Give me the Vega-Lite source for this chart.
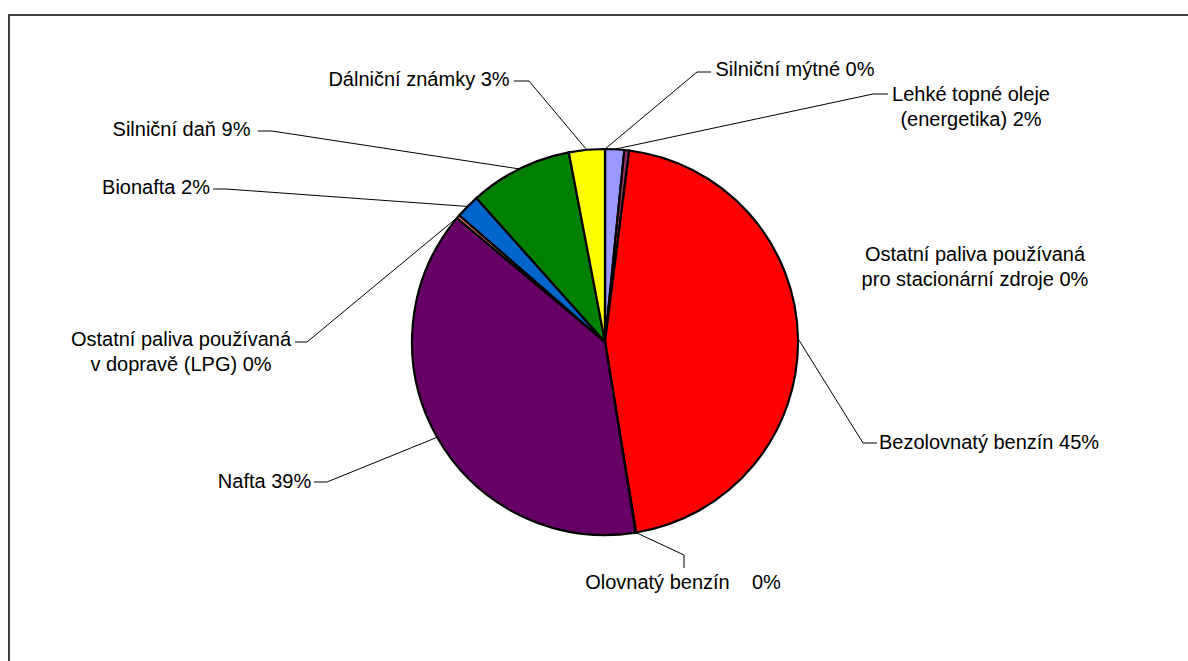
{
  "$schema": "https://vega.github.io/schema/vega-lite/v6.json",
  "width": 1180,
  "height": 647,
  "autosize": "none",
  "padding": {"left": 8, "top": 14, "right": 0, "bottom": 0},
  "background": "white",
  "config": {"view": {"stroke": null}},
  "datasets": {
    "shares": [
      {"ord": 1, "name": "Lehké topné oleje (energetika)", "share": 1.6},
      {"ord": 2, "name": "Ostatní paliva používaná pro stacionární zdroje", "share": 0.4},
      {"ord": 3, "name": "Bezolovnatý benzín", "share": 45.4},
      {"ord": 4, "name": "Olovnatý benzín", "share": 0.05},
      {"ord": 5, "name": "Nafta", "share": 38.6},
      {"ord": 6, "name": "Ostatní paliva používaná v dopravě (LPG)", "share": 0.3},
      {"ord": 7, "name": "Bionafta", "share": 2.0},
      {"ord": 8, "name": "Silniční daň", "share": 8.6},
      {"ord": 9, "name": "Dálniční známky", "share": 3.0},
      {"ord": 10, "name": "Silniční mýtné", "share": 0.0}
    ],
    "labelLayout": [
      {"name": "Lehké topné oleje (energetika)", "text": "Lehké topné oleje\n(energetika) 2%", "cx": 366, "cy": 247, "ax": 283, "ay": 248, "ex": 268, "ey": 248},
      {"name": "Silniční mýtné", "text": "Silniční mýtné 0%", "cx": 190, "cy": 272, "ax": 106, "ay": 270, "ex": 92, "ey": 270},
      {"name": "Dálniční známky", "text": "Dálniční známky 3%", "cx": -186, "cy": 262, "ax": -91, "ay": 261, "ex": -76, "ey": 261},
      {"name": "Silniční daň", "text": "Silniční daň 9%", "cx": -423.5, "cy": 212, "ax": -347, "ay": 211, "ex": -333, "ey": 211},
      {"name": "Bionafta", "text": "Bionafta 2%", "cx": -449, "cy": 154, "ax": -392, "ay": 153, "ex": -379, "ey": 153},
      {"name": "Ostatní paliva používaná v dopravě (LPG)", "text": "Ostatní paliva používaná\nv dopravě (LPG) 0%", "cx": -424, "cy": 2, "ax": -310, "ay": 0, "ex": -298, "ey": 0},
      {"name": "Nafta", "text": "Nafta 39%", "cx": -340.5, "cy": -140, "ax": -291, "ay": -140, "ex": -278, "ey": -140},
      {"name": "Olovnatý benzín", "text": "Olovnatý benzín\u00a0\u00a0\u00a0 0%", "cx": 78, "cy": -241, "ax": 79, "ay": -226, "ex": 79, "ey": -213},
      {"name": "Bezolovnatý benzín", "text": "Bezolovnatý benzín 45%", "cx": 384, "cy": -101, "ax": 272, "ay": -101, "ex": 258, "ey": -101},
      {"name": "Ostatní paliva používaná pro stacionární zdroje", "text": "Ostatní paliva používaná\npro stacionární zdroje 0%", "cx": 370, "cy": 87, "ax": null, "ay": null, "ex": null, "ey": null}
    ]
  },
  "layer": [
    {
      "description": "Chart area frame",
      "data": {"values": [{}]},
      "mark": {"type": "rect", "fill": null, "stroke": "#404040", "strokeWidth": 2},
      "encoding": {
        "x": {"datum": -596, "type": "quantitative", "scale": {"domain": [-597, 583], "nice": false, "zero": false}, "axis": null},
        "x2": {"datum": 900},
        "y": {"datum": 327, "type": "quantitative", "scale": {"domain": [-319, 328], "nice": false, "zero": false}, "axis": null},
        "y2": {"datum": -600}
      }
    },
    {
      "description": "Pie slices, clockwise from twelve o'clock",
      "data": {"name": "shares"},
      "mark": {"type": "arc", "outerRadius": 193, "stroke": "#000000", "strokeWidth": 2.2},
      "encoding": {
        "x": {"datum": 0, "type": "quantitative", "scale": {"domain": [-597, 583], "nice": false, "zero": false}, "axis": null},
        "y": {"datum": 0, "type": "quantitative", "scale": {"domain": [-319, 328], "nice": false, "zero": false}, "axis": null},
        "theta": {"field": "share", "type": "quantitative", "stack": true},
        "order": {"field": "ord", "type": "quantitative"},
        "color": {
          "field": "name",
          "type": "nominal",
          "legend": null,
          "scale": {
            "domain": [
              "Lehké topné oleje (energetika)",
              "Ostatní paliva používaná pro stacionární zdroje",
              "Bezolovnatý benzín",
              "Olovnatý benzín",
              "Nafta",
              "Ostatní paliva používaná v dopravě (LPG)",
              "Bionafta",
              "Silniční daň",
              "Dálniční známky",
              "Silniční mýtné"
            ],
            "range": ["#9999FF", "#993366", "#FF0000", "#CCFFFF", "#660066", "#FF8080", "#0066CC", "#008000", "#FFFF00", "#FF00FF"]
          }
        }
      }
    },
    {
      "description": "Leader lines from each slice's mid-angle on the rim to its label",
      "data": {"name": "shares"},
      "transform": [
        {"window": [{"op": "sum", "field": "share", "as": "cum"}], "sort": [{"field": "ord"}], "frame": [null, 0]},
        {"joinaggregate": [{"op": "sum", "field": "share", "as": "total"}]},
        {"calculate": "2 * PI * (datum.cum - datum.share / 2) / datum.total", "as": "ang"},
        {"calculate": "193 * sin(datum.ang)", "as": "rimX"},
        {"calculate": "193 * cos(datum.ang)", "as": "rimY"},
        {"lookup": "name", "from": {"data": {"name": "labelLayout"}, "key": "name", "fields": ["ax", "ay", "ex", "ey"]}},
        {"filter": "isValid(datum.ax)"}
      ],
      "layer": [
        {
          "mark": {"type": "rule", "color": "#000000", "strokeWidth": 1},
          "encoding": {
            "x": {"field": "rimX", "type": "quantitative", "scale": {"domain": [-597, 583], "nice": false, "zero": false}, "axis": null},
            "y": {"field": "rimY", "type": "quantitative", "scale": {"domain": [-319, 328], "nice": false, "zero": false}, "axis": null},
            "x2": {"field": "ex"},
            "y2": {"field": "ey"}
          }
        },
        {
          "mark": {"type": "rule", "color": "#000000", "strokeWidth": 1},
          "encoding": {
            "x": {"field": "ex", "type": "quantitative", "scale": {"domain": [-597, 583], "nice": false, "zero": false}, "axis": null},
            "y": {"field": "ey", "type": "quantitative", "scale": {"domain": [-319, 328], "nice": false, "zero": false}, "axis": null},
            "x2": {"field": "ax"},
            "y2": {"field": "ay"}
          }
        }
      ]
    },
    {
      "description": "Data labels",
      "data": {"name": "labelLayout"},
      "mark": {"type": "text", "font": "Liberation Sans", "fontSize": 20, "color": "#000000", "align": "center", "baseline": "middle", "lineBreak": "\n", "lineHeight": 25},
      "encoding": {
        "x": {"field": "cx", "type": "quantitative", "scale": {"domain": [-597, 583], "nice": false, "zero": false}, "axis": null},
        "y": {"field": "cy", "type": "quantitative", "scale": {"domain": [-319, 328], "nice": false, "zero": false}, "axis": null},
        "text": {"field": "text"}
      }
    }
  ]
}
